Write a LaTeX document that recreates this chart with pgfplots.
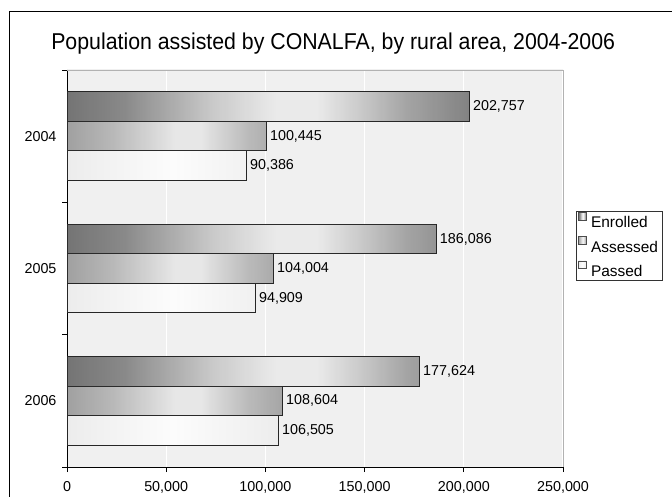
\documentclass[border=0pt]{standalone}
\usepackage{fontspec}
\setmainfont{Liberation Sans}
\usepackage{pgfplots}
\pgfplotsset{compat=1.18}

\definecolor{e0}{HTML}{767676}
\definecolor{e1}{HTML}{8C8C8C}
\definecolor{e2}{HTML}{D2D2D2}
\definecolor{e3}{HTML}{F6F6F6}
\definecolor{e4}{HTML}{D6D6D6}
\definecolor{e5}{HTML}{ABABAB}
\definecolor{e6}{HTML}{858585}
\definecolor{a0}{HTML}{A6A6A6}
\definecolor{a1}{HTML}{BEBEBE}
\definecolor{a2}{HTML}{F2F2F2}
\definecolor{a3}{HTML}{C2C2C2}
\definecolor{a4}{HTML}{ABABAB}
\definecolor{p0}{HTML}{ECECEC}
\definecolor{p1}{HTML}{FCFCFC}
\definecolor{p2}{HTML}{EDEDED}

\pgfdeclarehorizontalshading{enrshade}{100bp}{color(0bp)=(e0); color(25bp)=(e0); color(32bp)=(e1); color(43bp)=(e2); color(51bp)=(e3); color(56bp)=(e3); color(61bp)=(e4); color(67bp)=(e5); color(75bp)=(e6); color(100bp)=(e6)}
\pgfdeclarehorizontalshading{assshade}{100bp}{color(0bp)=(a0); color(25bp)=(a0); color(35bp)=(a1); color(50bp)=(a2); color(56bp)=(a2); color(67bp)=(a3); color(75bp)=(a4); color(100bp)=(a4)}
\pgfdeclarehorizontalshading{passhade}{100bp}{color(0bp)=(p0); color(25bp)=(p0); color(50bp)=(p1); color(75bp)=(p2); color(100bp)=(p2)}

\pgfplotstableread{
year enrolled assessed passed
1 202757 100445 90386
2 186086 104004 94909
3 177624 108604 106505
}\datatable

\begin{document}
\begin{tikzpicture}[x=1bp,y=1bp]
\useasboundingbox (0,0) rectangle (672,497);
\fill[white] (0,0) rectangle (672,497);
\begin{scope}
\clip (0,0) rectangle (672,497);
\draw[black, line width=1bp] (9,-20) rectangle (700,485.5);
\end{scope}
\node[anchor=base west, font=\fontsize{23}{26}\selectfont, xscale=0.93, transform shape] at (48,447) {Population assisted by CONALFA, by rural area, 2004-2006};
\begin{axis}[
  at={(67bp,30bp)}, anchor=south west,
  scale only axis, width=496bp, height=397bp,
  xmin=0, xmax=250000, ymin=0.5, ymax=3.5, y dir=reverse,
  axis x line*=bottom, axis y line*=left,
  axis line style={black, line width=0.9bp},
  axis background/.style={shade, top color=black!6, middle color=white, bottom color=black!6},
  xtick={0,50000,100000,150000,200000,250000},
  scaled x ticks=false,
  /pgf/number format/.cd, fixed, 1000 sep={,}, assume math mode=true, /pgfplots/.cd,
  ytick={1,2,3}, yticklabels={2004,2005,2006},
  minor ytick={0.5,1.5,2.5,3.5},
  tick align=outside,
  major tick length=5bp, minor tick length=5bp,
  major y tick style={draw=none},
  minor y tick style={draw=black, line width=0.8bp},
  major x tick style={draw=black, line width=0.8bp},
  xmajorgrids, grid style={white, line width=1.2bp},
  tick label style={font=\fontsize{14.4}{16}\selectfont, black},
  xticklabel style={yshift=-6bp},
  yticklabel style={xshift=-2bp},
  xbar, bar width=29.5bp,
  every node near coord/.append style={font=\fontsize{14.4}{16}\selectfont, black},
  point meta=x,
  legend style={at={(rel axis cs:1.026,0.645)}, anchor=north west, draw=black!80, line width=0.8bp,
    fill=white, font=\fontsize{15.5}{17}\selectfont, inner xsep=2bp, inner ysep=1bp,
    row sep=5bp, cells={anchor=west}},
  legend image code/.code={\draw[#1, draw=black!70, line width=0.6bp] (0bp,3bp) rectangle (7.5bp,10.5bp);
    \node[draw=none, fill=none, inner sep=0pt, minimum size=0pt] at (10bp,3bp) {};},
  legend cell align=left,
  clip=false,
]
\addplot[bar shift=29.5bp, shade, shading=enrshade, draw=black!85, line width=0.9bp, nodes near coords, nodes near coords align={horizontal}] table[x=enrolled, y=year] {\datatable};
\addplot[bar shift=0bp, shade, shading=assshade, draw=black!85, line width=0.9bp, nodes near coords, nodes near coords align={horizontal}] table[x=assessed, y=year] {\datatable};
\addplot[bar shift=-29.5bp, shade, shading=passhade, draw=black!85, line width=0.9bp, nodes near coords, nodes near coords align={horizontal}] table[x=passed, y=year] {\datatable};
\legend{Enrolled, Assessed, Passed}
% vertical highlight band overlay
\addplot[forget plot, bar shift=29.5bp, draw=none, top color=black!60, middle color=white, bottom color=black!60, fill opacity=0.08] table[x=enrolled, y=year] {\datatable};
\addplot[forget plot, bar shift=0bp, draw=none, top color=black!60, middle color=white, bottom color=black!60, fill opacity=0.08] table[x=assessed, y=year] {\datatable};
\draw[black!30, line width=0.8bp] (rel axis cs:0,1) -- (rel axis cs:1,1) -- (rel axis cs:1,0);
\end{axis}
\end{tikzpicture}
\end{document}
